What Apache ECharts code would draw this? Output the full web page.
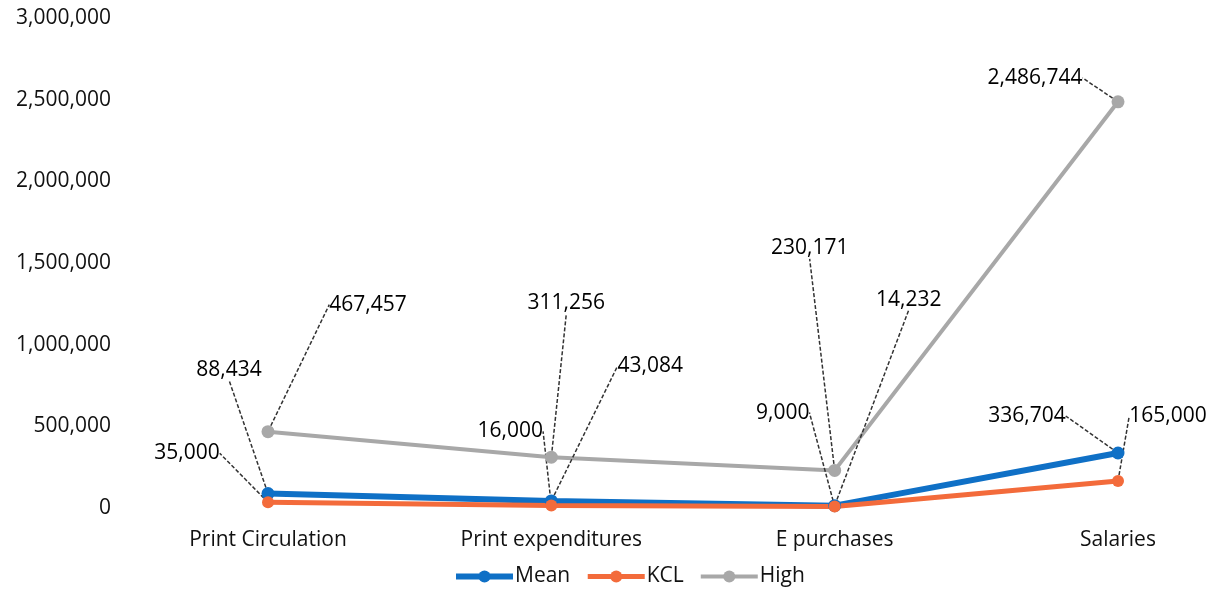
<!DOCTYPE html>
<html>
<head>
<meta charset="utf-8">
<script src="https://cdn.jsdelivr.net/npm/echarts@6/dist/echarts.min.js"></script>
<style>html,body{margin:0;padding:0;background:#fff}#c{width:1214px;height:590px}</style>
</head>
<body>
<div id="c"></div>
<script>
const categories = ['Print Circulation', 'Print expenditures', 'E purchases', 'Salaries'];
const meanValues = [88434, 43084, 14232, 336704];
const kclValues = [35000, 16000, 9000, 165000];
const highValues = [467457, 311256, 230171, 2486744];
const yTicks = { min: 0, max: 3000000, interval: 500000 };

// label placement offsets (styling, not data): [dx, dy] from point to label centre
const labelOffsets = {
  Mean: [[-39, -124], [99, -135], [74, -206], [-91, -37]],
  KCL: [[-81, -49], [-41, -74], [-52, -94], [50, -65]],
  High: [[100, -127], [15, -154], [-25, -222], [-83, -24]]
};

const FONT = '"Open Sans", sans-serif';
const chart = echarts.init(document.getElementById('c'), null, { renderer: 'canvas' });

function mkSeries(name, data, color, width, sym) {
  const offs = labelOffsets[name];
  return {
    name: name,
    type: 'line',
    data: data,
    symbol: 'circle',
    symbolSize: sym,
    lineStyle: { color: color, width: width },
    itemStyle: { color: color },
    label: {
      show: true,
      position: 'inside',
      fontFamily: FONT,
      fontSize: 21,
      color: '#000',
      formatter: p => p.value.toLocaleString('en-US')
    },
    labelLine: {
      show: true,
      smooth: false,
      length2: 0,
      lineStyle: { color: '#333', width: 1.5, type: [4, 2] }
    },
    labelLayout: function (p) {
      const o = offs[p.dataIndex];
      return { dx: o[0], dy: o[1] };
    },
    emphasis: { disabled: true }
  };
}

chart.setOption({
  animation: false,
  backgroundColor: '#fff',
  grid: { left: 268, right: 96, top: 18, bottom: 82, containLabel: false },
  xAxis: {
    type: 'category',
    data: categories,
    boundaryGap: false,
    axisLine: { show: false },
    axisTick: { show: false },
    axisLabel: { fontFamily: FONT, fontSize: 21, color: '#111', margin: 22 }
  },
  yAxis: {
    type: 'value',
    min: yTicks.min,
    max: yTicks.max,
    interval: yTicks.interval,
    splitLine: { show: false },
    axisLine: { show: false },
    axisTick: { show: false },
    axisLabel: {
      fontFamily: FONT, fontSize: 21, color: '#111', margin: 157,
      formatter: v => v.toLocaleString('en-US')
    }
  },
  legend: {
    bottom: -2,
    left: 448,
    itemWidth: 57,
    itemHeight: 15,
    itemGap: 15,
    textStyle: { fontFamily: FONT, fontSize: 21, color: '#111', padding: [0, 0, 0, -3] },
    data: [
      { name: 'Mean', lineStyle: { width: 6 } },
      { name: 'KCL', lineStyle: { width: 5 } },
      { name: 'High', lineStyle: { width: 4 } }
    ]
  },
  series: [
    mkSeries('Mean', meanValues, '#0F70C6', 6, 13),
    mkSeries('KCL', kclValues, '#F36B3B', 5, 12),
    mkSeries('High', highValues, '#A8A8A8', 4, 13)
  ]
});
</script>
</body>
</html>
